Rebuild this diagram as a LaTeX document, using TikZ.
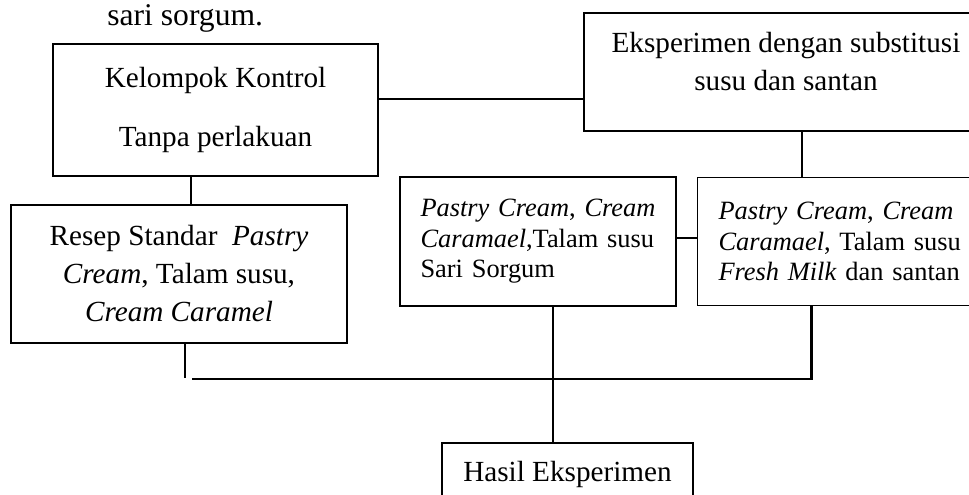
\documentclass[tikz,border=0pt]{standalone}
\usepackage{fontspec}
\setmainfont{Liberation Serif}
\usetikzlibrary{positioning}

\begin{document}
\begin{tikzpicture}[%
    x=0.5pt, y=-0.5pt,
    box/.style={draw, line width=0.75pt, inner sep=0pt, align=center,
      font=\fontsize{14.6}{19}\selectfont},
    smallbox/.style={box, align=left, font=\fontsize{13.2}{15.25}\selectfont},
    link/.style={line width=1pt},
  ]
    \useasboundingbox (0,0) rectangle (969,494);
    \clip (0,0) rectangle (969,494);

    \node[anchor=base west, inner sep=0pt, font=\fontsize{15.8}{19}\selectfont] (sisa) at (107,25) {sari sorgum.};

    \node[box, minimum width=162.5pt, minimum height=66pt] (kontrol) at (215.5,110)
      {Kelompok Kontrol\\[10.5pt]Tanpa perlakuan};
    \node[box, minimum width=202pt, minimum height=59pt] (eksp) at (786,72)
      {Eksperimen dengan substitusi\\susu dan santan\rule[-11pt]{0pt}{1pt}};
    \node[box, minimum width=168pt, minimum height=69pt] (resep) at (179,274)
      {Resep Standar~ \textit{Pastry}\\\textit{Cream}, Talam susu,\\\textit{Cream Caramel}};
    \node[smallbox, text width=117.5pt, minimum width=138pt, minimum height=64.5pt] (sorgum) at (538,241.5)
      {\makebox[\hsize][s]{\textit{Pastry Cream}, \textit{Cream}}\\
       \makebox[\hsize][s]{\textit{Caramael},Talam susu}\\
       Sari Sorgum};
    \node[smallbox, text width=125pt, minimum width=146pt, minimum height=64pt] (fresh) [right=10pt of sorgum]
      {\makebox[\hsize][s]{\textit{Pastry Cream}, \textit{Cream}}\\
       \makebox[\hsize][s]{\textit{Caramael}, Talam susu}\\
       \textit{Fresh Milk} dan santan};
    \node[box, minimum width=125.5pt, minimum height=31.5pt] (hasil) at (567.5,474.5) {Hasil Eksperimen};

    % upper links
    \coordinate (k1) at ([yshift=5.5pt]kontrol.east);
    \coordinate (k2) at ([xshift=-12.25pt]kontrol.south);
    \coordinate (e1) at ([xshift=7.75pt]eksp.south);
    \draw[link] (k1) -- (k1 -| eksp.west);
    \draw[link] (k2) -- (k2 |- resep.north);
    \draw[link] (e1) -- (e1 |- fresh.north);
    \draw[link] ([yshift=1.75pt]sorgum.east) -- ([yshift=1.75pt]sorgum.east -| fresh.west);

    % lower links
    \coordinate (join) at (553,379);
    \coordinate (b0) at (192,379);
    \coordinate (r1) at ([xshift=2.75pt]resep.south);
    \coordinate (s1) at ([xshift=7.25pt]sorgum.south);
    \coordinate (f1) at ([xshift=-16pt]fresh.south);
    \draw[link] (r1) -- ([yshift=0.5pt]r1 |- join);
    \draw[link] (s1) -- (s1 |- join);
    \draw[link, line width=1.2pt] (b0) -- (f1 |- join) -- (f1);
    \draw[link] (join) -- (join |- hasil.north);
  \end{tikzpicture}
\end{document}
